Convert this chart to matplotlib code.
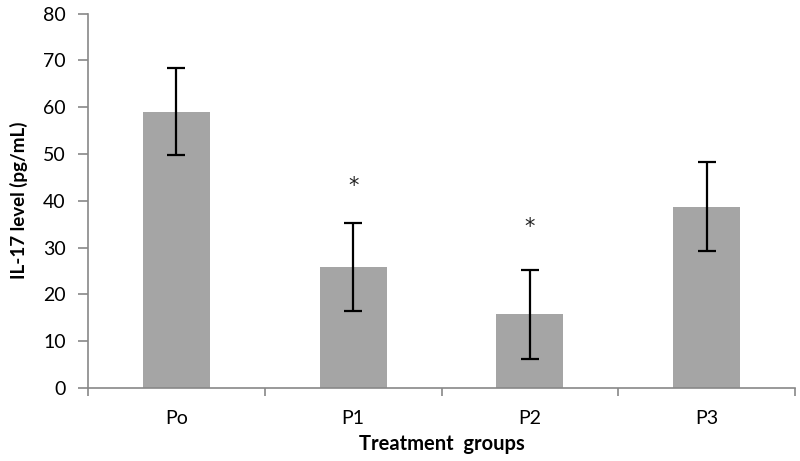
import matplotlib
matplotlib.use("Agg")
import matplotlib.pyplot as plt

categories = ["Po", "P1", "P2", "P3"]
means = [59.0, 25.8, 15.7, 38.7]
errors = [9.3, 9.4, 9.5, 9.5]
sig_marks = ["", "*", "*", ""]
sig_y = [None, 44.4, 35.5, None]
y_ticks = [0, 10, 20, 30, 40, 50, 60, 70, 80]

plt.rcParams['font.family'] = ['Lato', 'DejaVu Sans']

fig = plt.figure(figsize=(8, 4.61), dpi=100)
ax = fig.add_axes([0.11, 0.1584, 0.88375, 0.8123])

x = list(range(len(categories)))
ax.bar(x, means, width=0.38, color="#a5a5a5", zorder=2)
ax.errorbar(x, means, yerr=errors, fmt="none", ecolor="black", elinewidth=1.6,
            capsize=6.5, capthick=1.6, zorder=3)
for xi, m, yy in zip(x, sig_marks, sig_y):
    if m:
        ax.annotate(m, (xi, yy), xytext=(0, -4), textcoords="offset points",
                    ha="center", va="center", fontsize=15, color="#222222",
                    family=["DejaVu Sans"])

ax.set_xlim(-0.5, len(categories) - 0.5)
ax.set_ylim(0, 80)
ax.set_yticks(y_ticks)
ax.set_yticklabels([str(t) for t in y_ticks], fontsize=14)
ax.set_xticks([i - 0.5 for i in range(len(categories) + 1)])
ax.set_xticklabels([])
ax.set_xticks(x, minor=True)
ax.set_xticklabels(categories, minor=True, fontsize=14)
ax.tick_params(axis="x", which="minor", length=0, pad=16)
ax.tick_params(axis="x", which="major", length=6, color="#888888", width=1.2)
ax.tick_params(axis="y", length=7, color="#888888", width=1.2, pad=9)

for s in ["top", "right"]:
    ax.spines[s].set_visible(False)
for s in ["left", "bottom"]:
    ax.spines[s].set_color("#888888")
    ax.spines[s].set_linewidth(1.2)

ax.set_ylabel("IL-17 level (pg/mL)", fontsize=13.5, fontweight="bold", labelpad=11)
ax.set_xlabel("Treatment  groups", fontsize=14.5, fontweight="bold", labelpad=5)

fig.savefig("out.png", dpi=100)
